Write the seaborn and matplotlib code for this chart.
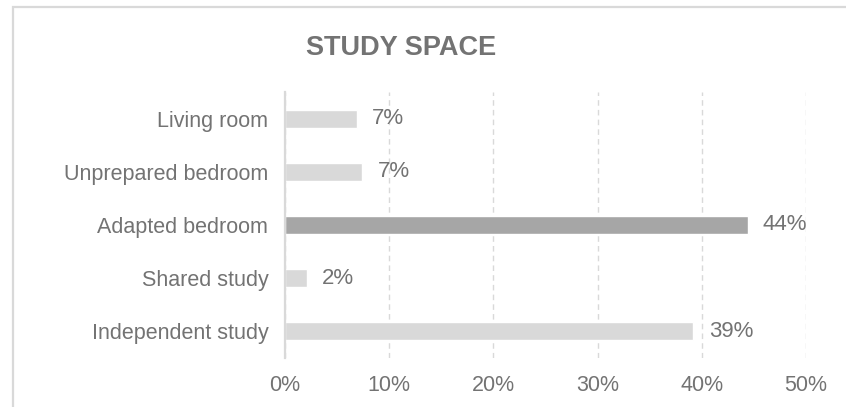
import matplotlib
matplotlib.use("Agg")
import matplotlib.pyplot as plt
import seaborn as sns
import pandas as pd
from matplotlib.patches import Rectangle
from matplotlib.ticker import FuncFormatter

# Study space shares (percent of respondents)
categories = ["Living room", "Unprepared bedroom", "Adapted bedroom",
              "Shared study", "Independent study"]
shares = [6.9, 7.4, 44.4, 2.1, 39.2]
bar_colors = ["#d9d9d9", "#d9d9d9", "#a6a6a6", "#d9d9d9", "#d9d9d9"]
x_ticks = [0, 10, 20, 30, 40, 50]

df = pd.DataFrame({"space": categories, "share": shares})

sns.set_theme(style="white")
plt.rcParams["font.family"] = ["Liberation Sans", "DejaVu Sans"]

text_gray = "#737373"
line_gray = "#d9d9d9"

fig = plt.figure(figsize=(8.46, 4.07), dpi=100)
fig.patch.set_facecolor("white")

# chart frame (top and left edges visible)
fig.patches.append(Rectangle((12.5 / 846, -0.1), 1.2, 1.1 - 7.5 / 407,
                             transform=fig.transFigure, fill=False,
                             edgecolor=line_gray, linewidth=1.6, zorder=0))

ax = fig.add_axes([285 / 846, 1 - 358 / 407, 521 / 846, 266 / 407])

sns.barplot(data=df, y="space", x="share", hue="space", palette=bar_colors,
            order=categories, hue_order=categories, orient="h",
            width=0.34, legend=False, ax=ax, zorder=3)

ax.set_xlim(0, 50)
ax.set_ylim(4.5, -0.5)
ax.set_xticks(x_ticks)
ax.xaxis.set_major_formatter(FuncFormatter(lambda v, _: f"{v:.0f}%"))
ax.grid(axis="x", color=line_gray, linestyle=(0, (4, 3)), linewidth=1.0, zorder=0)
ax.grid(axis="y", visible=False)

for side in ["top", "right", "bottom"]:
    ax.spines[side].set_visible(False)
ax.spines["left"].set_color(line_gray)
ax.spines["left"].set_linewidth(1.6)
ax.spines["left"].set_zorder(4)

ax.set_xlabel("")
ax.set_ylabel("")
ax.tick_params(axis="both", length=0, labelsize=15.5, labelcolor=text_gray)
ax.tick_params(axis="x", pad=12)
ax.tick_params(axis="y", pad=12)

# value labels at the bar ends
for i, v in enumerate(shares):
    ax.annotate(f"{v:.0f}%", xy=(v, i), xytext=(11, 0), textcoords="offset points",
                ha="left", va="center", fontsize=16, color=text_gray)

fig.text(401 / 846, 1 - 48 / 407, "STUDY SPACE", ha="center", va="center",
         fontsize=19.5, fontweight="bold", color=text_gray)

fig.savefig("out.png", dpi=100, facecolor="white")
